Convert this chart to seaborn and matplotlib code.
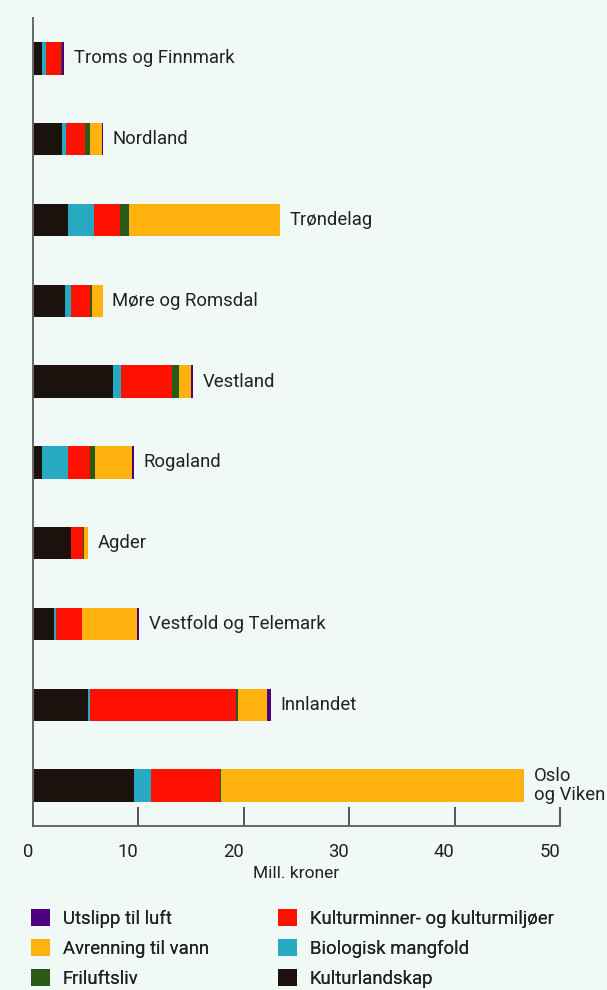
import numpy as np
import pandas as pd
import matplotlib
matplotlib.use("Agg")
import matplotlib.pyplot as plt
from matplotlib.patches import Patch
import seaborn as sns

regions = ["Troms og Finnmark", "Nordland", "Trøndelag", "Møre og Romsdal", "Vestland",
           "Rogaland", "Agder", "Vestfold og Telemark", "Innlandet", "Oslo og Viken"]
labels = ["Troms og Finnmark", "Nordland", "Trøndelag", "Møre og Romsdal", "Vestland",
          "Rogaland", "Agder", "Vestfold og Telemark", "Innlandet", "Oslo\nog Viken"]

kulturlandskap = [0.85, 2.72, 3.32, 3.04, 7.59, 0.85, 3.60, 1.99, 5.22, 9.58]
biologisk = [0.38, 0.41, 2.47, 0.56, 0.76, 2.47, 0.00, 0.19, 0.19, 1.62]
kulturminner = [1.43, 1.80, 2.49, 1.84, 4.84, 2.09, 1.14, 2.47, 13.85, 6.57]
friluftsliv = [0.07, 0.48, 0.83, 0.19, 0.66, 0.47, 0.10, 0.00, 0.19, 0.05]
avrenning = [0.00, 1.14, 14.32, 0.98, 1.14, 3.51, 0.38, 5.22, 2.75, 28.76]
utslipp = [0.25, 0.09, 0.00, 0.00, 0.19, 0.19, 0.00, 0.19, 0.38, 0.00]

series = ["Kulturlandskap", "Biologisk mangfold", "Kulturminner- og kulturmiljøer",
          "Friluftsliv", "Avrenning til vann", "Utslipp til luft"]
colors = {"Kulturlandskap": "#1c120d", "Biologisk mangfold": "#26a9c1",
          "Kulturminner- og kulturmiljøer": "#ff1100", "Friluftsliv": "#2a5a17",
          "Avrenning til vann": "#ffb20d", "Utslipp til luft": "#4e0080"}

df = pd.DataFrame({"region": regions, "Kulturlandskap": kulturlandskap,
                   "Biologisk mangfold": biologisk,
                   "Kulturminner- og kulturmiljøer": kulturminner,
                   "Friluftsliv": friluftsliv, "Avrenning til vann": avrenning,
                   "Utslipp til luft": utslipp})
cum = df[series].cumsum(axis=1)

bg = "#f1f9f6"
sns.set_style("white")
plt.rcParams['font.family'] = ['Roboto', 'DejaVu Sans']

fig = plt.figure(figsize=(6.07, 9.9), dpi=100, facecolor=bg)
ax = fig.add_axes([33 / 607, 164 / 990, 527 / 607, 808 / 990])
ax.set_facecolor(bg)

# stacked bars: draw the running totals from largest to smallest
for s in reversed(series):
    sns.barplot(x=cum[s], y=df["region"], color=colors[s], width=0.4,
                saturation=1, orient="h", ax=ax, linewidth=0)

for i, lab in enumerate(labels):
    ax.annotate(lab, (cum["Utslipp til luft"][i], i), xytext=(7, 0),
                textcoords="offset points", va="center", ha="left",
                fontsize=13.3, color="#222222", linespacing=1.05)

ax.set_xlim(0, 50)
ax.set_ylim(9.5, -0.5)
ax.set_xticks([0, 10, 20, 30, 40, 50])
ax.set_yticks([])
ax.set_ylabel("")
ax.set_xlabel("Mill. kroner", fontsize=12.5, color="#222222", labelpad=4)
ax.tick_params(axis="x", bottom=True, direction="in", length=14, width=1.4,
               color="#555555", pad=12, labelsize=13.3, labelcolor="#222222")
plt.setp(ax.get_xticklabels(), ha="right")
sns.despine(ax=ax)
for sp in ["left", "bottom"]:
    ax.spines[sp].set_color("#666666")
    ax.spines[sp].set_linewidth(1.4)

col1 = ["Utslipp til luft", "Avrenning til vann", "Friluftsliv"]
col2 = ["Kulturminner- og kulturmiljøer", "Biologisk mangfold", "Kulturlandskap"]
for names, x0 in [(col1, 24 / 607), (col2, 271 / 607)]:
    handles = [Patch(facecolor=colors[n], edgecolor="none", label=n) for n in names]
    leg = fig.legend(handles=handles, loc="upper left", bbox_to_anchor=(x0, 1 - 902 / 990),
                     frameon=False, fontsize=13.3, handlelength=1.0, handleheight=1.0,
                     handletextpad=0.7, labelspacing=0.62, borderaxespad=0)
    for t in leg.get_texts():
        t.set_color("#222222")
    fig.add_artist(leg)

fig.savefig("out.png", dpi=100, facecolor=bg)
